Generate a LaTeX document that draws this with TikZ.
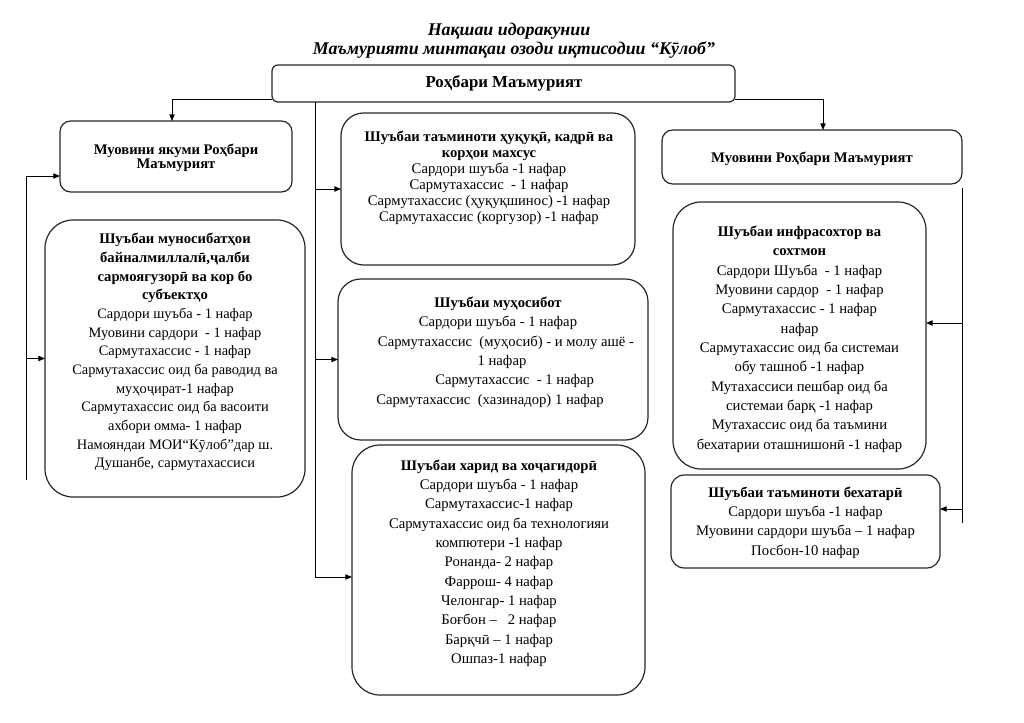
\documentclass[tikz,border=0pt]{standalone}
\usepackage{fontspec}
\setmainfont{Liberation Serif}
\usetikzlibrary{arrows.meta,calc}
\newcommand{\hdr}[1]{{\bfseries\fontsize{11}{13}\selectfont #1}}
\tikzset{
  box/.style={draw=black!85, line width=0.9pt, inner sep=0pt, outer sep=0pt},
  wh/.style 2 args={minimum width=#1*0.75pt, minimum height=#2*0.75pt},
  txt/.style={align=center, inner sep=0pt, font=\fontsize{11}{14.5}\selectfont},
  ln/.style={line width=0.7pt, black},
  arr/.style={ln, -{Triangle[length=5pt,width=4pt]}},
  ttl/.style={inner sep=0pt, font=\bfseries\itshape\fontsize{13.4}{16}\selectfont}
}
\begin{document}
\begin{tikzpicture}[x=0.75pt,y=-0.75pt]
\useasboundingbox (0,0) rectangle (1024,723);
% title
\node[ttl] (t1) at (509,31) {Нақшаи идоракунии};
\node[ttl] (t2) at (514,50) {Маъмурияти минтақаи озоди иқтисодии “Кӯлоб”};
% boxes
\node[box, wh={463}{37}, rounded corners=4.5pt] (top) at (503.5,83.5) {};
\node[inner sep=0pt, font=\bfseries\fontsize{12.6}{15}\selectfont] (topt) at (504,83) {Роҳбари Маъмурият};

\node[box, wh={232}{71}, rounded corners=8pt] (vp1) at (176,156.5) {};
\node[txt, font=\fontsize{11}{10.5}\selectfont] (vp1t) at (176,158) {\hdr{Муовини якуми Роҳбари}\\\hdr{Маъмурият}};

\node[box, wh={260}{277}, rounded corners=21pt] (l1) at (175,358.5) {};
\node[txt, font=\fontsize{10.8}{14}\selectfont] (l1t) at (175,352) {\hdr{Шуъбаи муносибатҳои}\\\hdr{байналмиллалӣ,ҷалби}\\\hdr{сармоягузорӣ ва кор бо}\\\hdr{субъектҳо}\\
Сардори шуъба - 1 нафар\\Муовини сардори\ \ - 1 нафар\\Сармутахассис - 1 нафар\\Сармутахассис оид ба раводид ва\\муҳоҷират-1 нафар\\Сармутахассис оид ба васоити\\ахбори омма- 1 нафар\\Намояндаи МОИ“Кӯлоб”дар ш.\\Душанбе, сармутахассиси};

\node[box, wh={294}{152}, rounded corners=17pt] (m1) at (488,189) {};
\node[txt, font=\fontsize{11}{12}\selectfont] (m1t) at (489,178) {\hdr{Шуъбаи таъминоти ҳуқуқӣ, кадрӣ ва}\\\hdr{корҳои махсус}\\
Сардори шуъба -1 нафар\\Сармутахассис\ \ - 1 нафар\\Сармутахассис (ҳуқуқшинос) -1 нафар\\Сармутахассис (коргузор) -1 нафар};

\node[box, wh={310}{161}, rounded corners=17pt] (m2) at (493,359.5) {};
\node[txt] (m2t) at (498,352) {\hdr{Шуъбаи муҳосибот}\\
Сардори шуъба - 1 нафар\hspace*{10pt}\\\hspace*{12pt}Сармутахассис\ \ (муҳосиб) - и молу ашё -\\\hspace*{6pt}1 нафар\\\hspace*{25pt}Сармутахассис\ \ - 1 нафар\\Сармутахассис\ \ (хазинадор) 1 нафар\hspace*{12pt}};

\node[box, wh={293}{250}, rounded corners=21pt] (m3) at (498.5,570) {};
\node[txt] (m3t) at (499,563) {\hdr{Шуъбаи харид ва хоҷагидорӣ}\\
Сардори шуъба - 1 нафар\\Сармутахассис-1 нафар\\Сармутахассис оид ба технологияи\\компютери -1 нафар\\Ронанда- 2 нафар\\Фаррош- 4 нафар\\Челонгар- 1 нафар\\Боғбон –\ \ \ 2 нафар\\Барқчӣ – 1 нафар\\Ошпаз-1 нафар};

\node[box, wh={300}{54}, rounded corners=8pt] (vp2) at (812,157) {};
\node[txt] (vp2t) at (812,159) {\hdr{Муовини Роҳбари Маъмурият}};

\node[box, wh={253}{267}, rounded corners=21pt] (r1) at (799.5,335.5) {};
\node[txt] (r1t) at (799.5,339) {\hdr{Шуъбаи инфрасохтор ва}\\\hdr{сохтмон}\\
Сардори Шуъба\ \ - 1 нафар\\Муовини сардор\ \ - 1 нафар\\Сармутахассис - 1 нафар\\нафар\\Сармутахассис оид ба системаи\\обу ташноб -1 нафар\\Мутахассиси пешбар оид ба\\системаи барқ -1 нафар\\Мутахассис оид ба таъмини\\бехатарии оташнишонӣ -1 нафар};

\node[box, wh={269}{93}, rounded corners=10pt] (r2) at (805.5,521.5) {};
\node[txt] (r2t) at (805.5,522.5) {\hdr{Шуъбаи таъминоти бехатарӣ}\\
Сардори шуъба -1 нафар\\Муовини сардори шуъба – 1 нафар\\Посбон-10 нафар};

% connectors
\coordinate (tl) at (172,99);
\coordinate (tr) at (823,99);
\draw[arr] (top.west |- tl) -- (tl) -- (vp1.north -| tl);
\draw[arr] (top.east |- tr) -- (tr) -- (vp2.north -| tr);

\coordinate (m3a) at (315,577);
\draw[ln] (top.south -| m3a) -- (m3a);
\draw[arr] (m3a) -- (m3.west |- m3a);
\draw[arr] (m1.west -| m3a) -- (m1.west);
\draw[arr] (m2.west -| m3a) -- (m2.west);

\coordinate (la) at (26,176);
\coordinate (lb) at (26,480);
\draw[arr] (lb) -- (la) -- (vp1.west |- la);
\draw[arr] (l1.west -| la) -- (l1.west);

\coordinate (ra) at (962,188);
\coordinate (rb) at (962,523);
\coordinate (r1a) at (962,323);
\coordinate (r2a) at (962,509);
\draw[ln] (ra) -- (rb);
\draw[arr] (r1a) -- (r1.east |- r1a);
\draw[arr] (r2a) -- (r2.east |- r2a);
\end{tikzpicture}
\end{document}
